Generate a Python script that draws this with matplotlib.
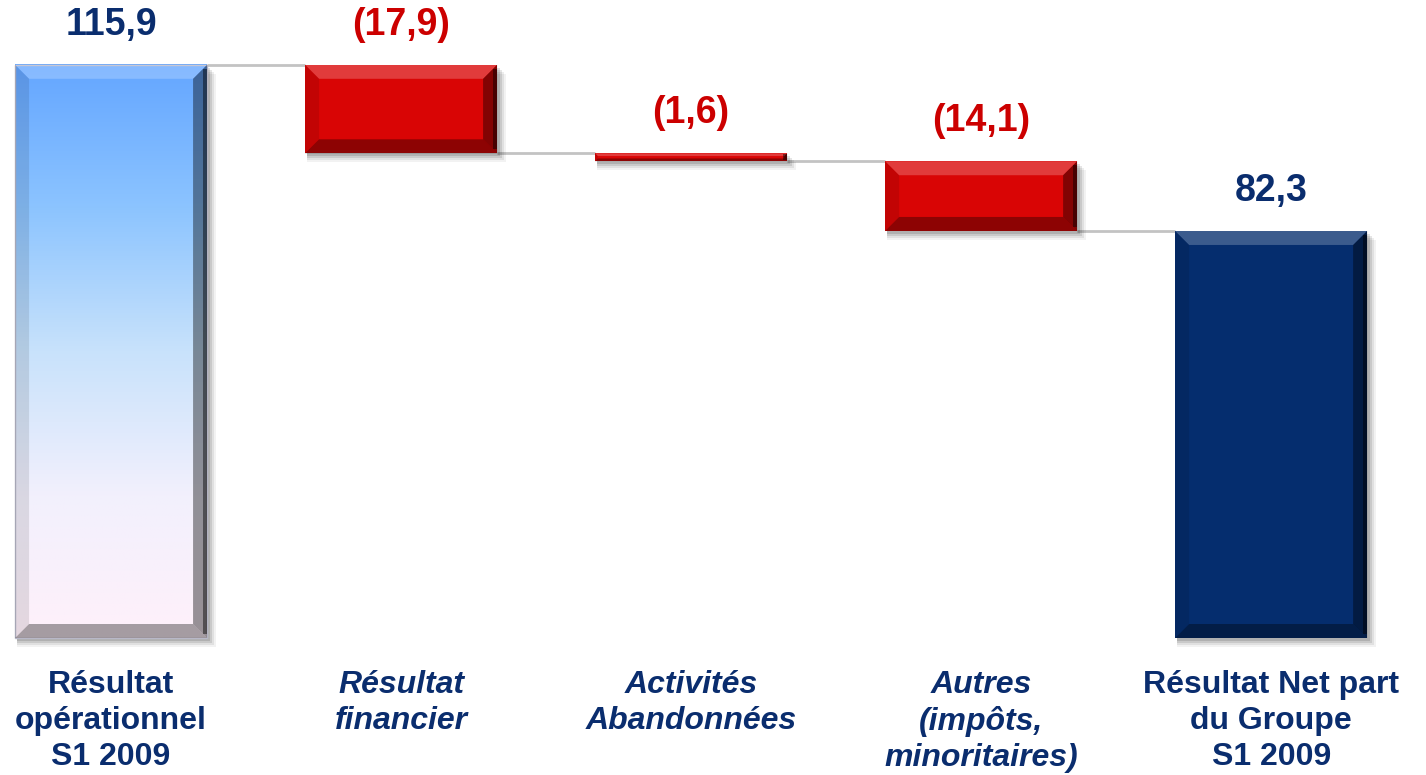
import numpy as np
import matplotlib.pyplot as plt
from matplotlib.patches import Polygon, Rectangle
from matplotlib.colors import LinearSegmentedColormap

plt.rcParams['font.family'] = ['Liberation Sans', 'DejaVu Sans']

# Donnees du graphique (cascade)
categories = ["Résultat\nopérationnel\nS1 2009", "Résultat\nfinancier",
              "Activités\nAbandonnées", "Autres\n(impôts,\nminoritaires)",
              "Résultat Net part\ndu Groupe\nS1 2009"]
values = [115.9, -17.9, -1.6, -14.1, 82.3]
value_labels = ["115,9", "(17,9)", "(1,6)", "(14,1)", "82,3"]
is_total = [True, False, False, False, True]
italic = [False, True, True, True, False]

NAVY = "#0a2d6e"
RED_TXT = "#cc0000"

fig = plt.figure(figsize=(14.26, 7.75), dpi=100)
ax = fig.add_axes([0, 0, 1, 1])
xmin, xmax = -0.383, 4.534
ymin, ymax = -27.7, 129.0
ax.set_xlim(xmin, xmax)
ax.set_ylim(ymin, ymax)
ax.axis('off')

# pixels -> unites de donnees
sx = 1426 / (xmax - xmin)
sy = 775 / (ymax - ymin)
width = 192 / sx


def bevel_bar(x0, x1, y0, y1, color=None, gradient=None):
    # ombre portee
    for k, a in [(9, 0.05), (7, 0.07), (5, 0.1), (3, 0.12)]:
        ax.add_patch(Rectangle((x0 + 2 / sx, y0 - k / sy), x1 - x0 + (k - 2) / sx, y1 - y0,
                               facecolor="black", edgecolor="none", alpha=a, zorder=1))
    if gradient is None:
        ax.add_patch(Rectangle((x0, y0), x1 - x0, y1 - y0, facecolor=color,
                               edgecolor="none", zorder=2))
    else:
        cmap = LinearSegmentedColormap.from_list("g", gradient)
        grad = np.linspace(0, 1, 256).reshape(-1, 1)
        ax.imshow(grad, cmap=cmap, extent=(x0, x1, y0, y1), aspect='auto',
                  zorder=2, interpolation='bilinear')
        ax.add_patch(Rectangle((x0, y0), x1 - x0, y1 - y0, facecolor="none",
                               edgecolor="#b8b8c8", lw=1, zorder=2.5))
    d = min(14, (y1 - y0) * sy * 0.35)
    dx, dy = d / sx, d / sy
    top = [(x0, y1), (x1, y1), (x1 - dx, y1 - dy), (x0 + dx, y1 - dy)]
    bot = [(x0, y0), (x1, y0), (x1 - dx, y0 + dy), (x0 + dx, y0 + dy)]
    left = [(x0, y0), (x0, y1), (x0 + dx, y1 - dy), (x0 + dx, y0 + dy)]
    right = [(x1, y0), (x1, y1), (x1 - dx, y1 - dy), (x1 - dx, y0 + dy)]
    ax.add_patch(Polygon(top, closed=True, facecolor="white", alpha=0.22, edgecolor="none", zorder=3))
    ax.add_patch(Polygon(bot, closed=True, facecolor="black", alpha=0.35, edgecolor="none", zorder=3))
    ax.add_patch(Polygon(left, closed=True, facecolor="black", alpha=0.1, edgecolor="none", zorder=3))
    ax.add_patch(Polygon(right, closed=True, facecolor="black", alpha=0.4, edgecolor="none", zorder=3))
    # bord exterieur droit plus sombre
    ax.add_patch(Rectangle((x1 - 4 / sx, y0 + dy * 0.3), 4 / sx, y1 - y0 - dy * 0.6,
                           facecolor="black", alpha=0.45, edgecolor="none", zorder=3))


# calcul des positions de la cascade
level = 0
bars = []
for i, v in enumerate(values):
    if is_total[i]:
        b, t = 0, v
        level = v
    else:
        t = level
        b = level + v
        level = b
    bars.append((b, t))

# lignes de liaison
for i in range(len(values) - 1):
    if is_total[i]:
        y = bars[i][1]
    else:
        y = bars[i][0]
    ax.plot([i + width / 2, i + 1 - width / 2], [y, y], color="#c3c3c3", lw=2, zorder=0.5,
            solid_capstyle='butt')

for i, (b, t) in enumerate(bars):
    x0, x1 = i - width / 2, i + width / 2
    if i == 0:
        bevel_bar(x0, x1, b, t, gradient=["#64a6ff", "#8cc4ff", "#c8e2fb", "#f2f0fd", "#fff0fa"])
        col = NAVY
    elif is_total[i]:
        bevel_bar(x0, x1, b, t, color="#052d6e")
        col = NAVY
    else:
        bevel_bar(x0, x1, b, t, color="#d90505")
        col = RED_TXT
    ax.text(i, t + 40 / sy, value_labels[i], ha='center', va='center', fontsize=27,
            fontweight='bold', color=col)
    ax.text(i, -32 / sy, categories[i], ha='center', va='top', fontsize=23,
            fontweight='bold', color=NAVY, style='italic' if italic[i] else 'normal',
            linespacing=1.25)

fig.savefig("out.png", dpi=100)
